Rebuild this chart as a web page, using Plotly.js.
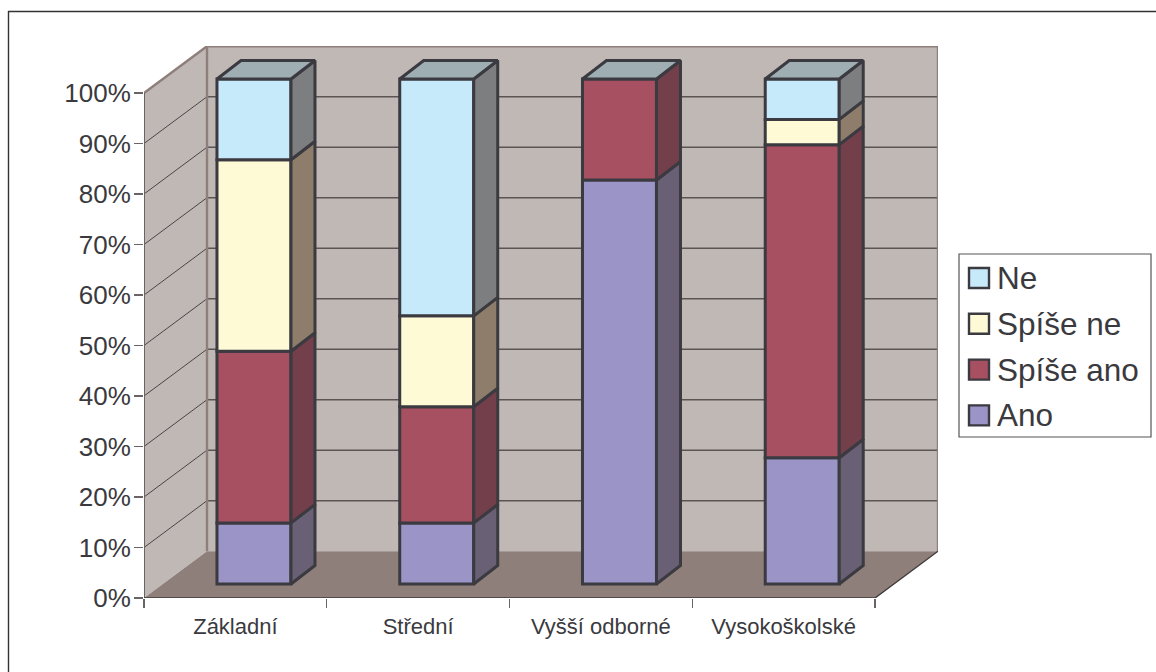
<!DOCTYPE html>
<html><head><meta charset="utf-8">
<script src="https://cdn.plot.ly/plotly-3.0.1.min.js"></script>
<style>html,body{margin:0;padding:0;background:#fff}</style></head>
<body><div id="chart" style="width:1156px;height:672px"></div>
<script>
const categories = ["Základní","Střední","Vyšší odborné","Vysokoškolské"];
const ano       = [12.1, 12.1, 80, 25];
const spiseAno  = [34.0, 23.0, 20, 62];
const spiseNe   = [37.9, 18.0, 0, 5];
const ne        = [16.0, 46.9, 0, 8];
const yTicks = [0,10,20,30,40,50,60,70,80,90,100];

const seriesNames = ["Ano","Spíše ano","Spíše ne","Ne"];
const seriesValues = [ano, spiseAno, spiseNe, ne];
const frontColors = ["#9A94C7","#A65061","#FFFAD6","#C7EAFA"];
const sideColors  = ["#696075","#733F4A","#8E7D6A","#7C7E80"];
const topColor = "#9FAEB3";
const edge = "#3A3A40";
const textColor = "#3A3A3E";
const wallFill = "#C0B8B5", floorFill = "#8E7F7A", wallEdge = "#8E7F7A";

// geometry in axis units (x: categories, y: percent)
const W = 794, H = 552, ux = 182.75, uy = 5.05, L = 144, T = 46;
const xMax = W/ux, yMax = H/uy;
const wallDx = 63/ux, wallDy = 46.8/uy;
const barOx = 18.6/ux, barOy = 14/uy, barW = 74/ux, sideDx = 24/ux, sideDy = 18.5/uy;
const nCat = categories.length;

const px = v => (v-L)/W;
const py = v => 1-(v-T)/H;

function poly(pts){ return "M"+pts.map(p=>p[0]+","+p[1]).join("L")+"Z"; }
const shapes = [];
// walls and floor
shapes.push({type:"path",layer:"below",xref:"x",yref:"y",path:poly([[0,0],[wallDx,wallDy],[wallDx,100+wallDy],[0,100]]),fillcolor:wallFill,line:{width:0}});
shapes.push({type:"path",layer:"below",xref:"x",yref:"y",path:poly([[wallDx,wallDy],[nCat+wallDx,wallDy],[nCat+wallDx,100+wallDy],[wallDx,100+wallDy]]),fillcolor:wallFill,line:{width:0}});
shapes.push({type:"path",layer:"below",xref:"x",yref:"y",path:poly([[0,0],[nCat,0],[nCat+wallDx,wallDy],[wallDx,wallDy]]),fillcolor:floorFill,line:{width:0}});
// gridlines
yTicks.filter(t=>t>0&&t<100).forEach(t=>{
  shapes.push({type:"line",layer:"below",xref:"x",yref:"y",x0:0,y0:t,x1:wallDx,y1:t+wallDy,line:{color:"#4A4545",width:1}});
  shapes.push({type:"line",layer:"below",xref:"x",yref:"y",x0:wallDx,y0:t+wallDy,x1:nCat+wallDx,y1:t+wallDy,line:{color:"#5A5453",width:1.4}});
});
// chart border: only the top and left edges are visible
shapes.push({type:"line",layer:"below",xref:"paper",yref:"paper",x0:px(8),x1:px(1156),y0:py(11.5),y1:py(11.5),line:{color:"#333333",width:1.4}});
shapes.push({type:"line",layer:"below",xref:"paper",yref:"paper",x0:px(8.5),x1:px(8.5),y0:py(11),y1:py(672),line:{color:"#333333",width:1.4}});
// legend box
shapes.push({type:"rect",xref:"paper",yref:"paper",x0:px(959),x1:px(1151),y0:py(254),y1:py(437),line:{color:"#555555",width:1.2},fillcolor:"#FFFFFF"});

const annotations = [];
[3,2,1,0].forEach((s,row)=>{
  const cy = 278 + row*45.8;
  shapes.push({type:"rect",xref:"paper",yref:"paper",x0:px(969),x1:px(989),y0:py(cy-10),y1:py(cy+10),fillcolor:frontColors[s],line:{color:edge,width:2.4}});
  annotations.push({xref:"paper",yref:"paper",x:px(997),y:py(cy),xanchor:"left",yanchor:"middle",showarrow:false,xshift:-2,text:seriesNames[s],font:{family:"Liberation Sans",size:31.5,color:textColor}});
});

const traces = [];
// bars: front faces
seriesValues.forEach((vals,s)=>{
  const base = vals.map((_,i)=>seriesValues.slice(0,s).reduce((a,sv)=>a+sv[i],0)+barOy);
  traces.push({type:"bar",name:seriesNames[s],x:categories.map((_,i)=>i+0.5+barOx),y:vals,base:base,width:barW,
    marker:{color:frontColors[s],line:{color:edge,width:vals.map(v=>v>0?3:0)}},showlegend:false,hoverinfo:"skip"});
});
// wall outline and axis lines (drawn unclipped)
function line(xs,ys,color,w){ traces.push({type:"scatter",mode:"lines",x:xs,y:ys,line:{color:color,width:w},cliponaxis:false,showlegend:false,hoverinfo:"skip"}); }
line([0,wallDx,nCat+wallDx,nCat+wallDx],[100,100+wallDy,100+wallDy,wallDy],wallEdge,2.4);
line([wallDx,wallDx],[wallDy,100+wallDy],wallEdge,2.4);
line([0,0],[0,100],"#6A6464",2);
line([0,nCat,nCat+wallDx],[0,0,wallDy],"#3F3B3B",1.4);
// side and top faces
categories.forEach((_,i)=>{
  const xr = i+0.5+barOx+barW/2, xl = xr-barW;
  let cum = barOy;
  seriesValues.forEach((vals,s)=>{
    const v = vals[i];
    if(v>0){
      traces.push({type:"scatter",mode:"lines",x:[xr,xr+sideDx,xr+sideDx,xr,xr],y:[cum,cum+sideDy,cum+v+sideDy,cum+v,cum],fill:"toself",fillcolor:sideColors[s],line:{color:edge,width:3},showlegend:false,hoverinfo:"skip"});
    }
    cum += v;
  });
  traces.push({type:"scatter",mode:"lines",x:[xl,xr,xr+sideDx,xl+sideDx,xl],y:[cum,cum,cum+sideDy,cum+sideDy,cum],fill:"toself",fillcolor:topColor,line:{color:edge,width:3},showlegend:false,hoverinfo:"skip"});
});

const layout = {
  width:1156,height:672,paper_bgcolor:"#fff",plot_bgcolor:"rgba(0,0,0,0)",
  margin:{l:L,r:1156-L-W,t:T,b:672-T-H,pad:0},
  barmode:"overlay",showlegend:false,hovermode:false,
  font:{family:"Liberation Sans",color:textColor},
  xaxis:{range:[0,xMax],showgrid:false,zeroline:false,showline:false,
    tickmode:"array",tickvals:categories.map((_,i)=>i+0.5),ticktext:categories,
    ticks:"outside",ticklen:9,tickcolor:"rgba(0,0,0,0)",tickfont:{size:22,family:"Liberation Sans",color:textColor},
    minor:{tickmode:"array",tickvals:categories.map((_,i)=>i).concat([nCat]),ticks:"outside",ticklen:9,tickwidth:1.4,tickcolor:"#6A6464",showgrid:false}},
  yaxis:{range:[0,yMax],showgrid:false,zeroline:false,showline:false,
    tickmode:"array",tickvals:yTicks,ticktext:yTicks.map(t=>t+"%"),ticklabelstandoff:-2,
    ticks:"outside",ticklen:9,tickwidth:1.4,tickcolor:"#6A6464",tickfont:{size:26,family:"Liberation Sans",color:textColor}},
  shapes:shapes,annotations:annotations
};
Plotly.newPlot("chart",traces,layout,{displayModeBar:false,staticPlot:true});
</script></body></html>
